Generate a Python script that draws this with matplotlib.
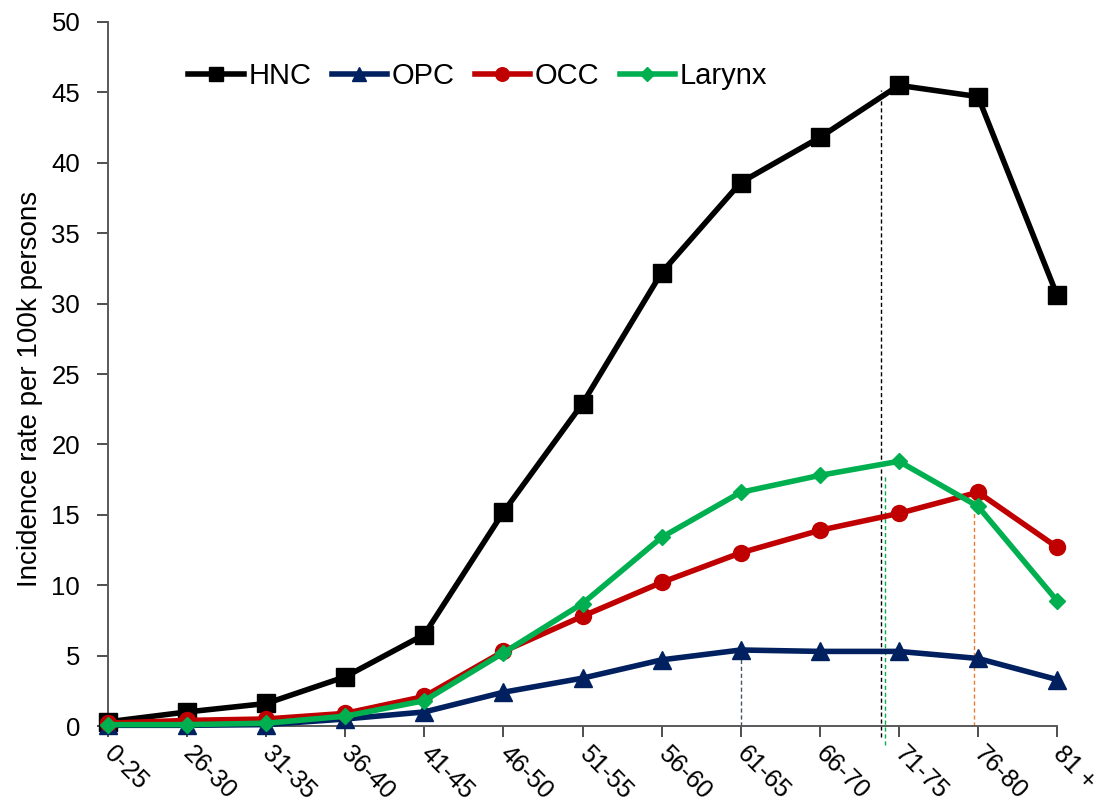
import matplotlib
matplotlib.use("Agg")
import matplotlib.pyplot as plt

plt.rcParams['font.family'] = ['Liberation Sans', 'DejaVu Sans']

age_groups = ['0-25', '26-30', '31-35', '36-40', '41-45', '46-50', '51-55',
              '56-60', '61-65', '66-70', '71-75', '76-80', '81 +']
hnc = [0.3, 1.0, 1.6, 3.5, 6.5, 15.2, 22.9, 32.2, 38.6, 41.8, 45.5, 44.7, 30.6]
opc = [0.05, 0.05, 0.1, 0.5, 1.0, 2.4, 3.4, 4.7, 5.4, 5.3, 5.3, 4.8, 3.3]
occ = [0.2, 0.4, 0.5, 0.9, 2.1, 5.3, 7.8, 10.2, 12.3, 13.9, 15.1, 16.6, 12.7]
larynx = [0.1, 0.1, 0.2, 0.7, 1.8, 5.2, 8.7, 13.4, 16.6, 17.8, 18.8, 15.6, 8.9]

# dashed reference lines: (x position in category units, y top, y bottom, color)
ref_x = [9.78, 9.83, 8.0, 10.95]
ref_top = [45.2, 17.8, 5.4, 16.8]
ref_bottom = [-0.8, -1.35, 0.0, 0.0]
ref_colors = ['#000000', '#00B050', '#44546A', '#ED7D31']

fig = plt.figure(figsize=(11.1, 8.05), dpi=100)
ax = fig.add_axes([0.0973, 0.0981, 0.855, 0.8746])

x = list(range(len(age_groups)))

for rx, rt, rb, rc in zip(ref_x, ref_top, ref_bottom, ref_colors):
    ax.plot([rx, rx], [rb, rt], color=rc, lw=1.0, ls=(0, (3, 2)), clip_on=False, zorder=1)

lw = 4.0
ax.plot(x, hnc, color='#000000', lw=lw, marker='s', ms=12.5, label='HNC', clip_on=False, zorder=3)
ax.plot(x, opc, color='#002060', lw=lw, marker='^', ms=12.5, label='OPC', clip_on=False, zorder=3)
ax.plot(x, occ, color='#C00000', lw=lw, marker='o', ms=11.5, label='OCC', clip_on=False, zorder=3)
ax.plot(x, larynx, color='#00B050', lw=lw, marker='D', ms=8, label='Larynx', clip_on=False, zorder=3)

ax.set_xlim(0, 12)
ax.set_ylim(0, 50)
ax.set_yticks(range(0, 51, 5))
ax.set_xticks(x)
ax.set_xticklabels(age_groups, rotation=-45, rotation_mode='anchor', ha='left', va='center', fontsize=18)
ax.tick_params(axis='x', pad=9)
ax.tick_params(axis='y', labelsize=18.5, pad=12)
ax.tick_params(direction='out', length=8, width=1.3, colors='#404040', labelcolor='black')

for s in ['top', 'right']:
    ax.spines[s].set_visible(False)
for s in ['left', 'bottom']:
    ax.spines[s].set_color('#595959')
    ax.spines[s].set_linewidth(1.4)

ax.set_ylabel('Incidence rate per 100k persons', fontsize=20)
ax.yaxis.set_label_coords(-0.068, 0.479)

ax.legend(loc='upper left', bbox_to_anchor=(0.057, 0.98), ncol=4, frameon=False,
          fontsize=21, handlelength=1.9, columnspacing=0.7, handletextpad=0.15,
          markerscale=0.85)

fig.savefig('out.png', dpi=100)
